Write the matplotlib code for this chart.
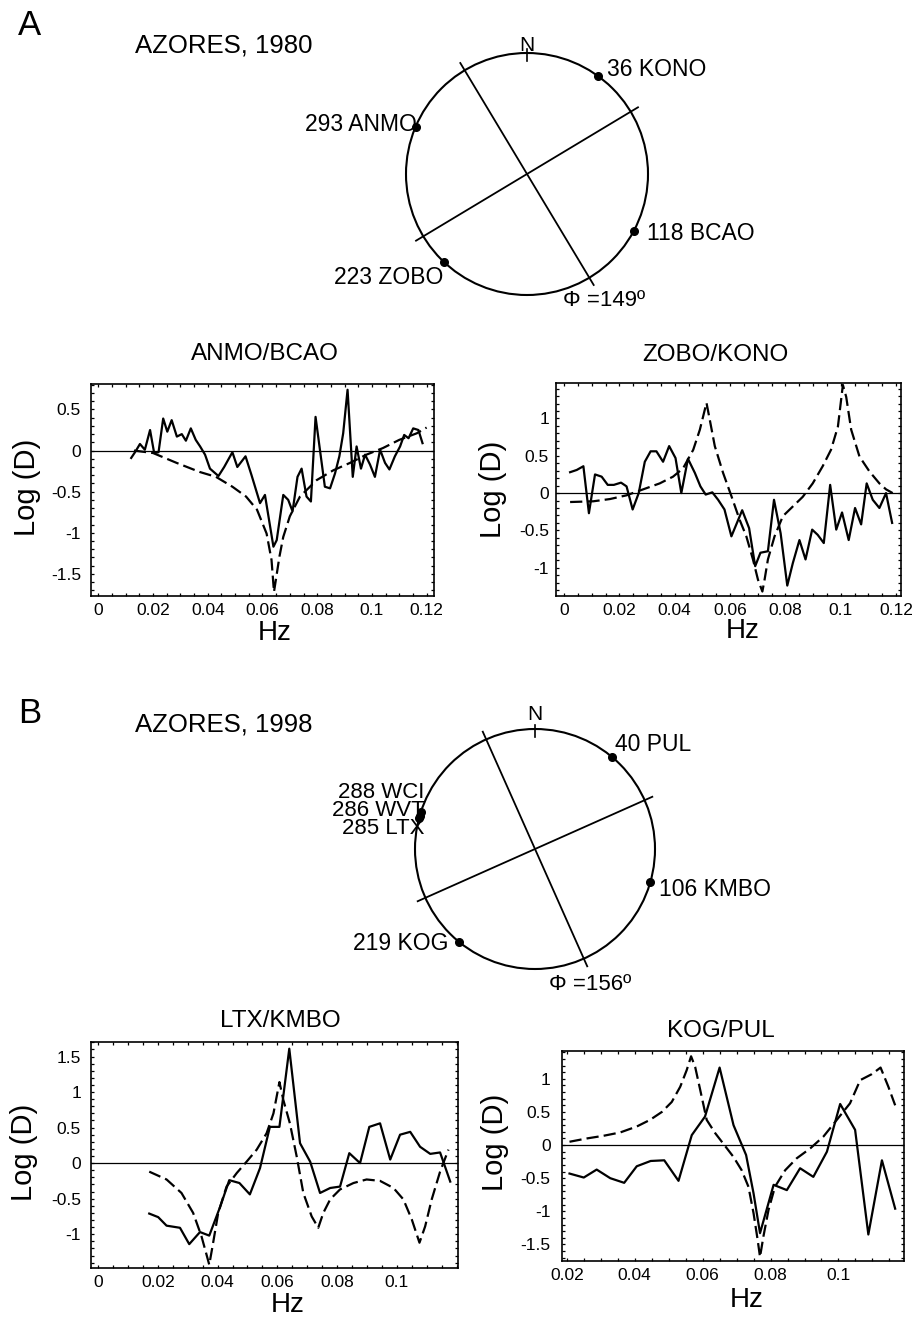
import numpy as np
import matplotlib
matplotlib.use("Agg")
import matplotlib.pyplot as plt
from matplotlib.patches import Circle
from matplotlib.ticker import FixedLocator, MultipleLocator, FuncFormatter

plt.rcParams['font.family'] = ['Liberation Sans', 'DejaVu Sans']
plt.rcParams['axes.unicode_minus'] = False

W, H = 915, 1318

# ---- A: Azores 1980 -------------------------------------------------------
a_stations = ["KONO", "ANMO", "BCAO", "ZOBO"]
a_azimuths = [36, 293, 118, 223]
a_phi = 149

# ANMO/BCAO
anmo_obs_x = [0.0120, 0.0136, 0.0152, 0.0170, 0.0189, 0.0204, 0.0220, 0.0237, 0.0252, 0.0268,
              0.0287, 0.0305, 0.0320, 0.0338, 0.0356, 0.0372, 0.0390, 0.0408, 0.0439, 0.0460,
              0.0490, 0.0508, 0.0538, 0.0560, 0.0591, 0.0609, 0.0640, 0.0652, 0.0676, 0.0694,
              0.0710, 0.0728, 0.0743, 0.0761, 0.0777, 0.0794, 0.0810, 0.0828, 0.0847, 0.0865,
              0.0881, 0.0895, 0.0911, 0.0930, 0.0944, 0.0960, 0.0975, 0.0993, 0.1011, 0.1030,
              0.1048, 0.1064, 0.1084, 0.1103, 0.1118, 0.1134, 0.1151, 0.1170, 0.1185]
anmo_obs_y = [-0.09, -0.01, 0.08, 0.01, 0.25, -0.03, -0.02, 0.39, 0.23, 0.37,
              0.17, 0.20, 0.12, 0.27, 0.13, 0.05, -0.05, -0.22, -0.31, -0.20,
              -0.02, -0.20, -0.07, -0.30, -0.64, -0.54, -1.17, -1.09, -0.54, -0.60,
              -0.74, -0.32, -0.22, -0.56, -0.62, 0.41, 0.01, -0.44, -0.46, -0.28,
              -0.07, 0.21, 0.74, -0.32, 0.05, -0.22, -0.05, -0.17, -0.32, 0.01,
              -0.15, -0.23, -0.07, 0.05, 0.19, 0.15, 0.27, 0.25, 0.09]
anmo_mod_x = [0.0130, 0.0200, 0.0286, 0.0370, 0.0430, 0.0490, 0.0540, 0.0580, 0.0615, 0.0633,
              0.0642, 0.0650, 0.0662, 0.0676, 0.0700, 0.0737, 0.0798, 0.0859, 0.0920, 0.0980,
              0.1040, 0.1100, 0.1164, 0.1200]
anmo_mod_y = [0.00, -0.03, -0.15, -0.26, -0.32, -0.44, -0.56, -0.72, -1.01, -1.33,
              -1.72, -1.55, -1.29, -1.05, -0.80, -0.56, -0.36, -0.24, -0.15, -0.05,
              0.03, 0.13, 0.21, 0.28]
anmo_xticks = [0, 0.02, 0.04, 0.06, 0.08, 0.1, 0.12]
anmo_yticks = [-1.5, -1, -0.5, 0, 0.5]

# ZOBO/KONO
zobo_obs_x = [0.0022, 0.0046, 0.0070, 0.0090, 0.0112, 0.0136, 0.0158, 0.0180, 0.0206, 0.0226,
              0.0248, 0.0270, 0.0292, 0.0313, 0.0334, 0.0358, 0.0380, 0.0403, 0.0424, 0.0448,
              0.0473, 0.0493, 0.0512, 0.0536, 0.0557, 0.0580, 0.0605, 0.0644, 0.0669, 0.0691,
              0.0710, 0.0737, 0.0759, 0.0783, 0.0807, 0.0827, 0.0851, 0.0873, 0.0897, 0.0917,
              0.0939, 0.0962, 0.0984, 0.1005, 0.1029, 0.1052, 0.1074, 0.1094, 0.1116, 0.1140,
              0.1164, 0.1186]
zobo_obs_y = [0.28, 0.31, 0.36, -0.27, 0.25, 0.22, 0.11, 0.11, 0.14, 0.09,
              -0.22, 0.00, 0.42, 0.56, 0.56, 0.42, 0.63, 0.47, 0.00, 0.46,
              0.27, 0.09, -0.02, 0.01, -0.09, -0.22, -0.58, -0.23, -0.47, -0.98,
              -0.80, -0.78, -0.09, -0.54, -1.24, -0.94, -0.63, -0.89, -0.49, -0.56,
              -0.67, 0.11, -0.49, -0.26, -0.63, -0.20, -0.42, 0.13, -0.09, -0.20,
              0.00, -0.40]
zobo_mod_x = [0.0022, 0.0106, 0.0166, 0.0226, 0.0286, 0.0346, 0.0394, 0.0430, 0.0467, 0.0491,
              0.0515, 0.0527, 0.0545, 0.0575, 0.0605, 0.0635, 0.0659, 0.0683, 0.0701, 0.0717,
              0.0725, 0.0737, 0.0761, 0.0791, 0.0827, 0.0863, 0.0899, 0.0935, 0.0965, 0.0990,
              0.1008, 0.1020, 0.1038, 0.1068, 0.1104, 0.1140, 0.1164, 0.1188]
zobo_mod_y = [-0.12, -0.11, -0.08, -0.03, 0.05, 0.13, 0.22, 0.33, 0.58, 0.85,
              1.21, 0.98, 0.63, 0.27, -0.04, -0.36, -0.58, -0.89, -1.16, -1.32,
              -1.16, -0.89, -0.58, -0.31, -0.18, -0.05, 0.13, 0.36, 0.58, 0.89,
              1.45, 1.29, 0.85, 0.49, 0.29, 0.13, 0.05, 0.00]
zobo_xticks = [0, 0.02, 0.04, 0.06, 0.08, 0.1, 0.12]
zobo_yticks = [-1, -0.5, 0, 0.5, 1]

# ---- B: Azores 1998 -------------------------------------------------------
b_stations = ["PUL", "WCI", "WVT", "LTX", "KMBO", "KOG"]
b_azimuths = [40, 288, 286, 285, 106, 219]
b_phi = 156

# LTX/KMBO
ltx_obs_x = [0.0171, 0.0201, 0.0229, 0.0274, 0.0305, 0.0341, 0.0372, 0.0408, 0.0439, 0.0473,
             0.0508, 0.0542, 0.0575, 0.0607, 0.0640, 0.0676, 0.0710, 0.0743, 0.0777, 0.0810,
             0.0841, 0.0877, 0.0908, 0.0944, 0.0978, 0.1011, 0.1045, 0.1078, 0.1112, 0.1145,
             0.1179]
ltx_obs_y = [-0.71, -0.76, -0.88, -0.91, -1.14, -0.97, -1.02, -0.62, -0.24, -0.28,
             -0.44, -0.07, 0.51, 0.51, 1.61, 0.28, 0.02, -0.42, -0.35, -0.33,
             0.14, 0.00, 0.51, 0.56, 0.05, 0.40, 0.44, 0.23, 0.13, 0.15,
             -0.26]
ltx_mod_x = [0.0171, 0.0229, 0.0279, 0.0318, 0.0346, 0.0363, 0.0372, 0.0383, 0.0402, 0.0430,
             0.0464, 0.0497, 0.0531, 0.0564, 0.0587, 0.0607, 0.0620, 0.0642, 0.0665, 0.0687,
             0.0715, 0.0737, 0.0754, 0.0777, 0.0810, 0.0855, 0.0899, 0.0944, 0.0989, 0.1022,
             0.1050, 0.1076, 0.1095, 0.1117, 0.1145, 0.1173]
ltx_mod_y = [-0.12, -0.23, -0.42, -0.70, -1.03, -1.29, -1.43, -1.17, -0.70, -0.33,
             -0.14, 0.02, 0.19, 0.42, 0.70, 1.14, 0.89, 0.56, 0.09, -0.42,
             -0.75, -0.91, -0.70, -0.51, -0.37, -0.28, -0.23, -0.25, -0.35, -0.51,
             -0.79, -1.12, -0.89, -0.51, -0.12, 0.19]
ltx_xticks = [0, 0.02, 0.04, 0.06, 0.08, 0.1]
ltx_yticks = [-1, -0.5, 0, 0.5, 1, 1.5]

# KOG/PUL
kog_obs_x = [0.0208, 0.0250, 0.0288, 0.0328, 0.0369, 0.0406, 0.0447, 0.0487, 0.0529, 0.0568,
             0.0607, 0.0650, 0.0691, 0.0728, 0.0750, 0.0769, 0.0809, 0.0848, 0.0887, 0.0926,
             0.0966, 0.1005, 0.1049, 0.1088, 0.1128, 0.1167]
kog_obs_y = [-0.43, -0.49, -0.37, -0.50, -0.57, -0.32, -0.24, -0.23, -0.54, 0.15,
             0.43, 1.17, 0.30, -0.15, -0.73, -1.33, -0.60, -0.68, -0.35, -0.48,
             -0.10, 0.62, 0.23, -1.35, -0.23, -0.96]
kog_mod_x = [0.0208, 0.0259, 0.0308, 0.0357, 0.0406, 0.0445, 0.0480, 0.0509, 0.0534, 0.0553,
             0.0566, 0.0578, 0.0593, 0.0612, 0.0637, 0.0661, 0.0691, 0.0715, 0.0735, 0.0750,
             0.0762, 0.0769, 0.0779, 0.0794, 0.0813, 0.0843, 0.0877, 0.0917, 0.0956, 0.0995,
             0.1034, 0.1064, 0.1098, 0.1124, 0.1147, 0.1167]
kog_mod_y = [0.05, 0.10, 0.14, 0.19, 0.28, 0.38, 0.50, 0.65, 0.88, 1.13,
             1.34, 1.18, 0.83, 0.38, 0.18, 0.02, -0.18, -0.38, -0.63, -1.03,
             -1.43, -1.69, -1.38, -0.98, -0.63, -0.38, -0.20, -0.05, 0.13, 0.38,
             0.63, 0.98, 1.07, 1.17, 0.88, 0.60]
kog_xticks = [0.02, 0.04, 0.06, 0.08, 0.1]
kog_yticks = [-1.5, -1, -0.5, 0, 0.5, 1]


fig = plt.figure(figsize=(W / 100, H / 100), dpi=100)

# overlay axes in pixel coordinates for the free text and the azimuth circles
over = fig.add_axes([0, 0, 1, 1], zorder=5)
over.set_xlim(0, W)
over.set_ylim(H, 0)
over.axis('off')
over.patch.set_alpha(0)


def cap_text(x, y, s, size, ha='left', **kw):
    # y is the vertical centre of the capitals, in pixels
    base = y + 0.358 * size * 100 / 72
    over.text(x, base, s, fontsize=size, ha=ha, va='baseline', **kw)


def px_rect(left, top, right, bottom):
    return [left / W, 1 - bottom / H, (right - left) / W, (bottom - top) / H]


def tick_fmt(v, pos):
    v = round(v, 6)
    return '0' if v == 0 else f'{v:g}'


def spectrum_panel(rect, obs_x, obs_y, mod_x, mod_y, xlim, ylim, xticks, yticks, ypad):
    ax = fig.add_axes(px_rect(*rect))
    ax.axhline(0, color='black', lw=0.9)
    ax.plot(mod_x, mod_y, color='black', lw=1.6, dashes=(5.5, 2.3))
    ax.plot(obs_x, obs_y, color='black', lw=1.6)
    ax.set_xlim(*xlim)
    ax.set_ylim(*ylim)
    ax.xaxis.set_major_locator(FixedLocator(xticks))
    ax.yaxis.set_major_locator(FixedLocator(yticks))
    ax.xaxis.set_minor_locator(MultipleLocator(0.005))
    ax.yaxis.set_minor_locator(MultipleLocator(0.1))
    ax.xaxis.set_major_formatter(FuncFormatter(tick_fmt))
    ax.yaxis.set_major_formatter(FuncFormatter(tick_fmt))
    ax.tick_params(which='both', direction='in', top=True, right=True,
                   length=2.4, width=0.9, labelsize=12.5)
    ax.tick_params(axis='x', pad=5)
    ax.tick_params(axis='y', pad=ypad)
    for s in ax.spines.values():
        s.set_linewidth(1.2)
    return ax


def focal_circle(cx, cy, r, names, azimuths, offsets, phi, phi_off, n_r, group=None):
    over.add_patch(Circle((cx, cy), r, fill=False, lw=1.5, color='black'))
    for ang in (phi, phi - 90):
        a = np.radians(ang)
        dx, dy = 1.07 * r * np.sin(a), -1.07 * r * np.cos(a)
        over.plot([cx - dx, cx + dx], [cy - dy, cy + dy], color='black', lw=1.3)
    over.plot([cx, cx], [cy - 0.93 * r, cy - 1.03 * r], color='black', lw=1.2)
    cap_text(cx, cy - n_r * r, 'N', 15, ha='center')
    grouped = []
    for name, az, off in zip(names, azimuths, offsets):
        a = np.radians(az)
        sx, sy = cx + r * np.sin(a), cy - r * np.cos(a)
        over.plot(sx, sy, 'o', ms=5.5, color='black')
        if off is None:
            grouped.append((f'{az} {name}', sx, sy))
        else:
            cap_text(sx + off[0], sy + off[1], f'{az} {name}', 16.5, ha=off[2])
    if grouped:
        # stations too close together share one stacked label
        gx = np.mean([g[1] for g in grouped])
        gy = np.mean([g[2] for g in grouped])
        over.text(gx + group[0], gy + group[1], '\n'.join(g[0] for g in grouped),
                  fontsize=16, ha='right', va='center', multialignment='right',
                  linespacing=0.82)
    a = np.radians(phi)
    ex, ey = cx + 1.07 * r * np.sin(a), cy - 1.07 * r * np.cos(a)
    cap_text(ex + phi_off[0], ey + phi_off[1], f'\u03A6 ={phi}\u00BA', 16)


# ---- panel A ----
cap_text(18, 22.5, 'A', 25)
cap_text(135, 43, 'AZORES, 1980', 18.5)
focal_circle(527, 174, 121, a_stations, a_azimuths,
             [(9, -8, 'left'), (1, -4, 'right'), (13, 1, 'left'), (-1.5, 13.5, 'right')],
             a_phi, (-31, 13), 1.08)

spectrum_panel((90.7, 384, 434, 596), anmo_obs_x, anmo_obs_y, anmo_mod_x, anmo_mod_y,
               (-0.0028, 0.1227), (-1.77, 0.81), anmo_xticks, anmo_yticks, 7)
spectrum_panel((556, 382.7, 900.7, 596), zobo_obs_x, zobo_obs_y, zobo_mod_x, zobo_mod_y,
               (-0.0029, 0.1217), (-1.38, 1.48), zobo_xticks, zobo_yticks, 5)

cap_text(265, 351, 'ANMO/BCAO', 17.5, ha='center')
cap_text(715, 352, 'ZOBO/KONO', 17.5, ha='center')
cap_text(275, 630, 'Hz', 20, ha='center')
cap_text(743, 628, 'Hz', 20, ha='center')
over.text(27, 487.5, 'Log (D)', fontsize=21, rotation=90, ha='center', va='center')
over.text(493, 489, 'Log (D)', fontsize=21, rotation=90, ha='center', va='center')

# ---- panel B ----
cap_text(18, 710.5, 'B', 25)
cap_text(135, 722.5, 'AZORES, 1998', 18.5)
focal_circle(535, 849, 120, b_stations, b_azimuths,
             [(3, -14, 'left'), None, None, None, (9, 6, 'left'), (-11, -0.6, 'right')],
             b_phi, (-38, 15.4), 1.137, group=(5, -5))

spectrum_panel((90.7, 1042.3, 458.3, 1268.3), ltx_obs_x, ltx_obs_y, ltx_mod_x, ltx_mod_y,
               (-0.0025, 0.1206), (-1.48, 1.70), ltx_xticks, ltx_yticks, 7)
spectrum_panel((561.7, 1051, 904, 1261), kog_obs_x, kog_obs_y, kog_mod_x, kog_mod_y,
               (0.0185, 0.1193), (-1.75, 1.42), kog_xticks, kog_yticks, 8)

cap_text(280, 1018, 'LTX/KMBO', 17.5, ha='center')
cap_text(721, 1028, 'KOG/PUL', 17.5, ha='center')
cap_text(288, 1302, 'Hz', 20, ha='center')
cap_text(747, 1297, 'Hz', 20, ha='center')
over.text(24, 1152, 'Log (D)', fontsize=21, rotation=90, ha='center', va='center')
over.text(495, 1142, 'Log (D)', fontsize=21, rotation=90, ha='center', va='center')

fig.savefig('out.png', dpi=100)
